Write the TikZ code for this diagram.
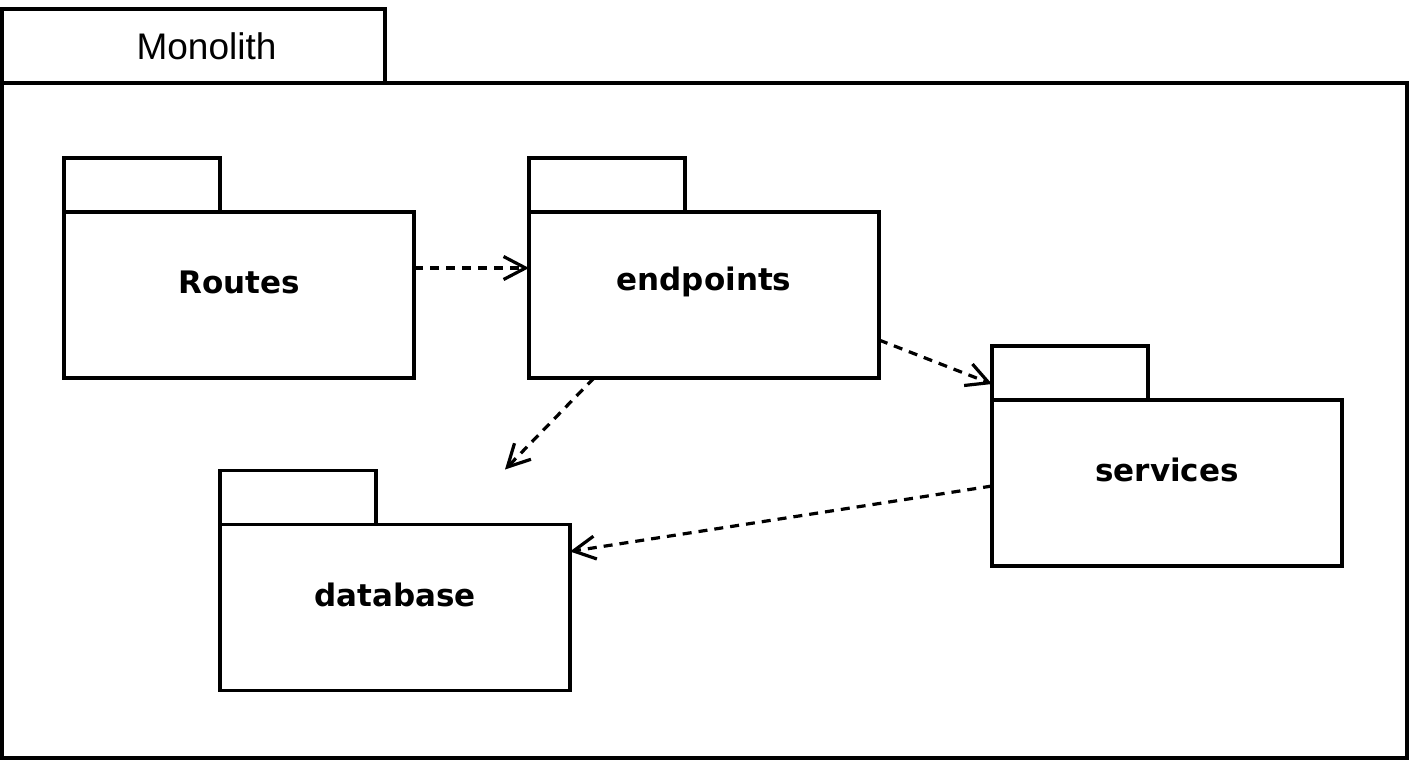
\documentclass[tikz,border=0pt]{standalone}
\usepackage{fontspec}
\usetikzlibrary{arrows.meta}
\newfontfamily\pkgfont{DejaVu Sans}
\newfontfamily\framefont{Liberation Sans}
\tikzset{
  box/.style={draw, line width=1.6pt, inner sep=0pt, outer sep=0pt},
  pkgbody/.style={box, minimum width=175pt, minimum height=83pt},
  pkgtab/.style={box, minimum width=78pt, minimum height=27pt, anchor=south west},
  pkgname/.style={font=\pkgfont\bfseries\fontsize{15.5}{19}\selectfont},
  dep/.style={line width=1.6pt, dash pattern=on 4.5pt off 3.5pt, -{Straight Barb[length=11pt,width=11.5pt]}}
}
\begin{document}
\begin{tikzpicture}[x=0.5pt,y=-0.5pt]
\useasboundingbox (0,0) rectangle (1409,761);

% outer frame
\node[box, minimum width=702.5pt, minimum height=337.5pt] (mono) at (704.5,420.5) {};
\node[box, minimum width=191.5pt, minimum height=37pt, anchor=south west] (monotab) at (mono.north west) {};
\node[font=\framefont\fontsize{18.5}{22}\selectfont] (monolbl) at ([xshift=6.5pt]monotab.center) {Monolith};

% packages
\node[pkgbody] (routes) at (239,295) {};
\node[pkgtab] (routestab) at (routes.north west) {};
\node[pkgname] (routeslbl) at ([yshift=-35pt]routes.north) {Routes};

\node[pkgbody] (endpoints) at (704,295) {};
\node[pkgtab] (endpointstab) at (endpoints.north west) {};
\node[pkgname] (endpointslbl) at ([yshift=-35pt]endpoints.north) {endpoints};

\node[pkgbody] (services) at (1167,483) {};
\node[pkgtab] (servicestab) at (services.north west) {};
\node[pkgname] (serviceslbl) at ([yshift=-35pt]services.north) {services};

\node[pkgbody] (database) at (395,607.5) {};
\node[pkgtab] (databasetab) at (database.north west) {};
\node[pkgname] (databaselbl) at ([yshift=-35pt]database.north) {database};

\coordinate (dbtip) at ([shift={(55pt,27.5pt)}]database.north);

% dependencies
\draw[dep] ([yshift=13.5pt]routes.east) -- ([yshift=13.5pt]endpoints.west);
\draw[dep] ([yshift=-22.5pt]endpoints.east) -- ([yshift=-5.5pt]servicestab.west);
\draw[dep] ([xshift=-55pt]endpoints.south) -- (dbtip);
\draw[dep] ([yshift=-1.5pt]services.west) -- ([yshift=28pt]database.east);

\end{tikzpicture}
\end{document}
